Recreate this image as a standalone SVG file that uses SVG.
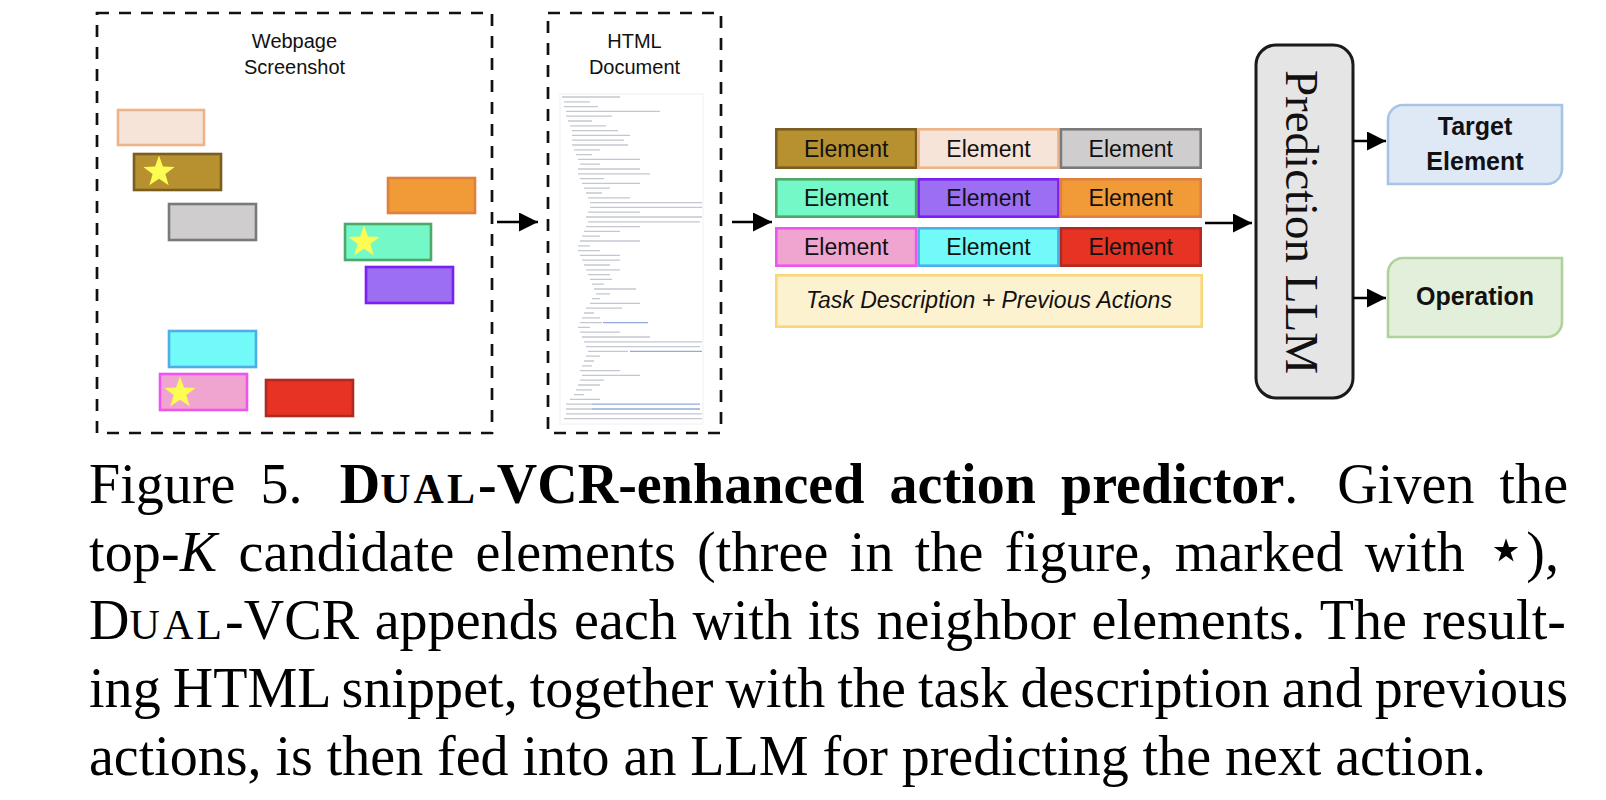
<svg xmlns="http://www.w3.org/2000/svg" width="1606" height="800" viewBox="0 0 1606 800">
<style>
.dash{fill:none;stroke:#111;stroke-width:2.7;stroke-dasharray:12 10}
.lbl{font-family:"Liberation Sans",Arial,sans-serif;font-size:20px;fill:#111;text-anchor:middle}
.el{font-family:"Liberation Sans",Arial,sans-serif;font-size:23px;fill:#111;text-anchor:middle}
.bold{font-family:"Liberation Sans",Arial,sans-serif;font-size:25px;font-weight:bold;fill:#111;text-anchor:middle}
.cap{font-family:"Liberation Serif","Times New Roman","DejaVu Serif",serif;font-size:56px;fill:#000}
.sc{font-size:42px;letter-spacing:3px}
.conn{stroke:#000;stroke-width:2.6;fill:none;marker-end:url(#arr)}
.box{stroke-width:2.6}
.code{stroke:#C4C7CF;stroke-width:1.3;fill:none}
.link{stroke:#93A9DD;stroke-width:1.3;fill:none}
</style>
<defs>
<marker id="arr" markerUnits="userSpaceOnUse" markerWidth="19" markerHeight="19" viewBox="0 0 10 10" refX="10" refY="5" orient="auto">
<path d="M0,0 L10,5 L0,10 Z" fill="#000"/>
</marker>
<polygon id="star" points="0,-16 3.82,-5.26 15.22,-4.94 6.18,2.01 9.4,12.94 0,6.5 -9.4,12.94 -6.18,2.01 -15.22,-4.94 -3.82,-5.26" fill="#FCFC52"/>
</defs>
<rect width="1606" height="800" fill="#fff"/>

<g id="screenshot">
<rect class="dash" x="97" y="13" width="395" height="420"/>
<text class="lbl" x="294.5" y="48">Webpage</text>
<text class="lbl" x="294.5" y="74">Screenshot</text>
<rect class="box" x="118" y="110" width="86" height="35" fill="#F6E4D8" stroke="#EDB48A"/>
<rect class="box" x="134" y="154" width="87" height="36" fill="#B79130" stroke="#7A5E20"/>
<rect class="box" x="169" y="204" width="87" height="36" fill="#CFCDCE" stroke="#7A7A7A"/>
<rect class="box" x="388" y="178" width="87" height="35" fill="#F09A38" stroke="#E0803F"/>
<rect class="box" x="345" y="224" width="86" height="36" fill="#74F8C8" stroke="#4FA868"/>
<rect class="box" x="366" y="267" width="87" height="36" fill="#9B6EF2" stroke="#7B1FF5"/>
<rect class="box" x="169" y="331" width="87" height="36" fill="#72FAF8" stroke="#4EAEE8"/>
<rect class="box" x="160" y="374" width="87" height="36" fill="#F0A4D0" stroke="#EE55EE"/>
<rect class="box" x="266" y="380" width="87" height="36" fill="#E73323" stroke="#B02A20"/>
<use href="#star" transform="translate(159,172) scale(1.03)"/>
<use href="#star" transform="translate(364,242) scale(1.03)"/>
<use href="#star" transform="translate(180,393) scale(1.03)"/>
</g>

<g id="html-document">
<rect class="dash" x="548" y="13" width="173" height="420"/>
<text class="lbl" x="634.5" y="48">HTML</text>
<text class="lbl" x="634.5" y="74">Document</text>
<rect x="560" y="94" width="143" height="330" fill="none" stroke="#F0F0F2" stroke-width="1"/>
<path class="code" d="M562,97h58 M564,101.8h26 M564,106.6h34 M566,111.4h94 M566,116.2h46 M568,121h24 M570,125.8h36 M572,130.6h46 M572,135.4h58 M572,140.2h52 M572,145h56 M574,149.8h26 M576,154.6h16 M578,159.4h62 M580,164.2h20 M578,169h62 M578,173.8h72 M580,178.6h24 M582,183.4h58 M584,188.2h26 M586,193h16 M588,197.8h42 M590,202.6h112 M590,207.4h112 M588,212.2h52 M586,217h116 M588,221.8h112 M586,226.6h54 M584,231.4h36 M582,236.2h18 M580,241h60 M578,245.8h12 M578,250.6h22 M580,255.4h40 M582,260.2h38 M584,265h26 M586,269.8h34 M588,274.6h22 M590,279.4h22 M592,284.2h12 M594,289h42 M596,293.8h14 M592,298.6h8 M590,303.4h50 M586,308.2h36 M584,313h10 M582,317.8h18 M580,322.6h22 M578,327.4h12 M580,332.2h40 M582,337h68 M584,341.8h118 M586,346.6h114 M588,351.4h40 M586,356.2h14 M584,361h10 M582,365.8h10 M580,370.6h40 M582,375.4h58 M580,380.2h24 M578,385h22 M576,389.8h16 M574,394.6h10 M570,399.4h30 M566,404.2h26 M566,409h26 M566,413.8h136 M564,418.6h138"/>
<path class="link" d="M603,322.6h45 M630,351.4h72 M592,404.2h108 M592,409h108"/>
</g>

<g id="elements">
<rect class="box" x="776.3" y="129.3" width="139.8" height="38.4" fill="#B79130" stroke="#7A5E20"/>
<rect class="box" x="918.6" y="129.3" width="139.8" height="38.4" fill="#F6E4D8" stroke="#EDB48A"/>
<rect class="box" x="1060.9" y="129.3" width="139.8" height="38.4" fill="#CFCDCE" stroke="#7A7A7A"/>
<rect class="box" x="776.3" y="179.3" width="139.8" height="37.4" fill="#74F8C8" stroke="#4FA868"/>
<rect class="box" x="918.6" y="179.3" width="139.8" height="37.4" fill="#9B6EF2" stroke="#7B1FF5"/>
<rect class="box" x="1060.9" y="179.3" width="139.8" height="37.4" fill="#F09A38" stroke="#E0803F"/>
<rect class="box" x="776.3" y="228.3" width="139.8" height="37.4" fill="#F0A4D0" stroke="#EE55EE"/>
<rect class="box" x="918.6" y="228.3" width="139.8" height="37.4" fill="#72FAF8" stroke="#4EAEE8"/>
<rect class="box" x="1060.9" y="228.3" width="139.8" height="37.4" fill="#E73323" stroke="#B02A20"/>
<text class="el" x="846.2" y="156.5">Element</text>
<text class="el" x="988.5" y="156.5">Element</text>
<text class="el" x="1130.8" y="156.5">Element</text>
<text class="el" x="846.2" y="206">Element</text>
<text class="el" x="988.5" y="206">Element</text>
<text class="el" x="1130.8" y="206">Element</text>
<text class="el" x="846.2" y="255">Element</text>
<text class="el" x="988.5" y="255">Element</text>
<text class="el" x="1130.8" y="255">Element</text>
</g>

<g id="task">
<rect class="box" x="776.3" y="275.3" width="425.4" height="51.4" fill="#FDF2D0" stroke="#F9D67A"/>
<text class="el" x="989" y="308" font-size="22" font-style="italic">Task Description + Previous Actions</text>
</g>

<g id="llm">
<rect x="1256" y="45" width="97" height="353" rx="20" ry="20" fill="#E5E5E5" stroke="#1a1a1a" stroke-width="3"/>
<text transform="translate(1286,222) rotate(90)" text-anchor="middle" font-family="Liberation Serif,'Times New Roman',serif" font-size="47" fill="#111">Prediction LLM</text>
</g>

<g id="target-element">
<path d="M1403,105 H1562 V169 A15,15 0 0 1 1547,184 H1388 V120 A15,15 0 0 1 1403,105 Z" fill="#DEE9F5" stroke="#A6C5E6" stroke-width="2.6"/>
<text class="bold" x="1475" y="135">Target</text>
<text class="bold" x="1475" y="170">Element</text>
</g>

<g id="operation">
<path d="M1403,258 H1562 V322 A15,15 0 0 1 1547,337 H1388 V273 A15,15 0 0 1 1403,258 Z" fill="#E2EFDA" stroke="#AFD29A" stroke-width="2.6"/>
<text class="bold" x="1475" y="305" font-size="24">Operation</text>
</g>

<g id="connectors">
<line class="conn" x1="497" y1="222" x2="538" y2="222"/>
<line class="conn" x1="732" y1="222" x2="772" y2="222"/>
<line class="conn" x1="1205" y1="223" x2="1252" y2="223"/>
<line class="conn" x1="1353" y1="141" x2="1386" y2="141"/>
<line class="conn" x1="1353" y1="298" x2="1386" y2="298"/>
</g>

<g id="caption" class="cap">
<text x="89" y="503" word-spacing="11" textLength="1479" lengthAdjust="spacing">Figure 5. <tspan dx="12" font-weight="bold">D<tspan class="sc">UAL</tspan>-VCR-enhanced action predictor</tspan>. <tspan dx="14">Given the</tspan></text>
<text x="89" y="571" word-spacing="7" textLength="1470" lengthAdjust="spacing">top-<tspan font-style="italic">K</tspan> candidate elements (three in the figure, marked with <tspan font-size="64">⋆</tspan>),</text>
<text x="89" y="639" word-spacing="1.5" textLength="1477" lengthAdjust="spacing">D<tspan class="sc">UAL</tspan>-VCR appends each with its neighbor elements. The result-</text>
<text x="89" y="707" word-spacing="-2" textLength="1479" lengthAdjust="spacing">ing HTML snippet, together with the task description and previous</text>
<text x="89" y="775" textLength="1397" lengthAdjust="spacing">actions, is then fed into an LLM for predicting the next action.</text>
</g>
</svg>
